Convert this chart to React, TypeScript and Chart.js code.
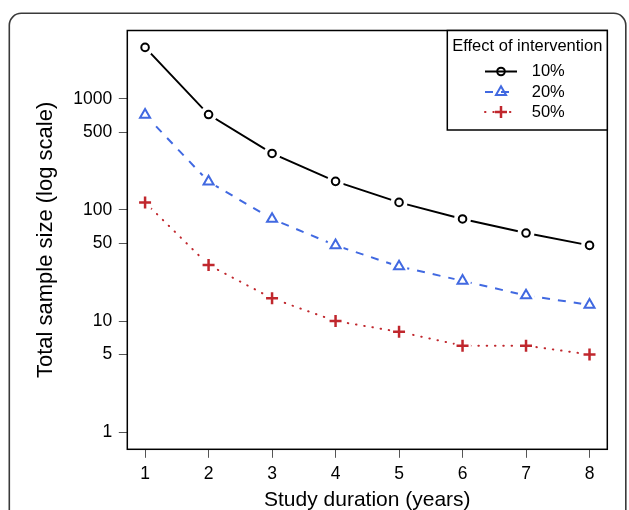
import React, { useEffect, useRef } from 'react';
import { Chart, registerables } from 'chart.js';
import { drawPoint } from 'chart.js/helpers';

Chart.register(...registerables);

// ---- data ----
const years = [1, 2, 3, 4, 5, 6, 7, 8];
const effect10 = [2910, 723, 323, 181, 117, 83, 62, 48];
const effect20 = [720, 180, 83, 48, 31, 23, 17, 14];
const effect50 = [117, 32, 16, 10, 8, 6, 6, 5];
const seriesLabels = ['10%', '20%', '50%'];
const xTicks = [1, 2, 3, 4, 5, 6, 7, 8];
const yTicks = [1, 5, 10, 50, 100, 500, 1000];
const legendTitle = 'Effect of intervention';
const xTitle = 'Study duration (years)';
const yTitle = 'Total sample size (log scale)';

const FONT = '"Liberation Sans", Arial, Helvetica, sans-serif';

const SERIES = [
  { label: seriesLabels[0], values: effect10, color: '#000000', dash: [] as number[], cap: 'butt', style: 'circle', radius: 3.8, bw: 2 },
  { label: seriesLabels[1], values: effect20, color: '#4169E1', dash: [8, 8], cap: 'butt', style: 'triangle', radius: 5.8, bw: 2 },
  { label: seriesLabels[2], values: effect50, color: '#C0272D', dash: [0.5, 7.8], cap: 'round', style: 'cross', radius: 6, bw: 2.5 },
];

const framePlugin = {
  id: 'rframe',
  afterDraw(chart: any) {
    const ctx = chart.ctx as CanvasRenderingContext2D;
    const a = chart.chartArea;
    ctx.save();
    // outer rounded frame
    const fx = 9.3, fy = 13.3, fw = 616.5, fh = 600, r = 12;
    ctx.strokeStyle = '#3a3a3a';
    ctx.lineWidth = 1.6;
    ctx.beginPath();
    ctx.moveTo(fx + r, fy);
    ctx.arcTo(fx + fw, fy, fx + fw, fy + fh, r);
    ctx.arcTo(fx + fw, fy + fh, fx, fy + fh, r);
    ctx.arcTo(fx, fy + fh, fx, fy, r);
    ctx.arcTo(fx, fy, fx + fw, fy, r);
    ctx.closePath();
    ctx.stroke();

    // plot box
    ctx.strokeStyle = '#000';
    ctx.lineWidth = 1.5;
    ctx.strokeRect(a.left, a.top, a.right - a.left, a.bottom - a.top);

    // legend
    const lx = 447.3, ly = a.top, lr = a.right, lb = 130;
    ctx.fillStyle = '#fff';
    ctx.fillRect(lx, ly, lr - lx, lb - ly);
    ctx.strokeStyle = '#000';
    ctx.lineWidth = 1.5;
    ctx.strokeRect(lx, ly, lr - lx, lb - ly);
    ctx.font = `16.5px ${FONT}`;
    ctx.fillStyle = '#000';
    ctx.textBaseline = 'middle';
    ctx.textAlign = 'center';
    ctx.fillText(legendTitle, (lx + lr) / 2, 46);
    const rows = [71.5, 92, 112];
    SERIES.forEach((s, i) => {
      const y = rows[i];
      ctx.save();
      ctx.strokeStyle = s.color;
      ctx.lineWidth = 2;
      ctx.lineCap = s.cap as CanvasLineCap;
      ctx.setLineDash(s.dash);
      ctx.beginPath();
      ctx.moveTo(485, y);
      ctx.lineTo(517, y);
      ctx.stroke();
      ctx.setLineDash([]);
      ctx.lineCap = 'butt';
      ctx.lineWidth = s.bw;
      ctx.fillStyle = 'rgba(0,0,0,0)';
      drawPoint(ctx, { pointStyle: s.style as any, rotation: 0, radius: s.radius, borderWidth: s.bw }, 501, y);
      ctx.restore();
      ctx.fillStyle = '#000';
      ctx.textAlign = 'left';
      ctx.fillText(s.label, 531.7, y);
    });
    ctx.restore();
  },
};

export default function App() {
  const ref = useRef<HTMLCanvasElement>(null);
  useEffect(() => {
    const datasets: any[] = [];
    SERIES.forEach((s) => {
      const pts = years.map((x, j) => ({ x, y: s.values[j] }));
      datasets.push({
        label: s.label, data: pts, borderColor: s.color, borderWidth: 2, borderDash: s.dash,
        borderCapStyle: s.cap, pointRadius: 0, fill: false, tension: 0, order: 3,
      });
      datasets.push({
        label: s.label + ' gap', data: pts, showLine: false, pointRadius: 8.5,
        pointBackgroundColor: '#ffffff', pointBorderWidth: 0, pointStyle: 'circle', order: 2,
      });
      datasets.push({
        label: s.label + ' marker', data: pts, showLine: false, pointRadius: s.radius,
        pointStyle: s.style, pointBorderColor: s.color, pointBackgroundColor: 'rgba(0,0,0,0)',
        pointBorderWidth: s.bw, order: 1,
      });
    });

    const chart = new Chart(ref.current!, {
      type: 'line',
      data: { datasets },
      options: {
        animation: false,
        responsive: false,
        devicePixelRatio: 1,
        events: [],
        layout: { padding: { top: 30.5, right: 21.7, left: 0, bottom: 0 } },
        plugins: { legend: { display: false }, tooltip: { enabled: false } },
        scales: {
          x: {
            type: 'linear',
            min: 0.72,
            max: 8.28,
            afterBuildTicks: (scale: any) => { scale.ticks = xTicks.map((v) => ({ value: v })); },
            afterFit: (scale: any) => { scale.height = 60.7; },
            border: { display: false },
            grid: { display: true, drawOnChartArea: false, drawTicks: true, tickLength: 8.5, tickColor: '#555', tickWidth: 1 },
            ticks: {
              autoSkip: false, maxRotation: 0, padding: 5.7, color: '#000',
              font: { family: FONT, size: 17.5 },
              callback: (v: any) => String(v),
            },
            title: {
              display: true, text: xTitle, color: '#000',
              font: { family: FONT, size: 21, lineHeight: 0.9 },
              padding: { top: 0, bottom: 0 },
            },
          },
          y: {
            type: 'logarithmic',
            min: 0.7258,
            max: 4131,
            afterBuildTicks: (scale: any) => { scale.ticks = yTicks.map((v) => ({ value: v })); },
            afterFit: (scale: any) => { scale.width = 127.3; },
            border: { display: false },
            grid: { display: true, drawOnChartArea: false, drawTicks: true, tickLength: 8.5, tickColor: '#555', tickWidth: 1 },
            ticks: {
              autoSkip: false, padding: 6.5, color: '#000',
              font: { family: FONT, size: 17.5 },
              callback: (v: any) => String(v),
            },
            title: {
              display: true, text: yTitle, color: '#000',
              font: { family: FONT, size: 22, lineHeight: 1 },
              padding: { top: 34.5, bottom: 0 },
            },
          },
        },
      },
      plugins: [framePlugin],
    } as any);
    return () => chart.destroy();
  }, []);

  return (
    <div style={{ position: 'fixed', left: 0, top: 0, width: 629, height: 510, background: '#fff' }}>
      <canvas ref={ref} width={629} height={510} style={{ display: 'block', width: 629, height: 510 }} />
    </div>
  );
}
